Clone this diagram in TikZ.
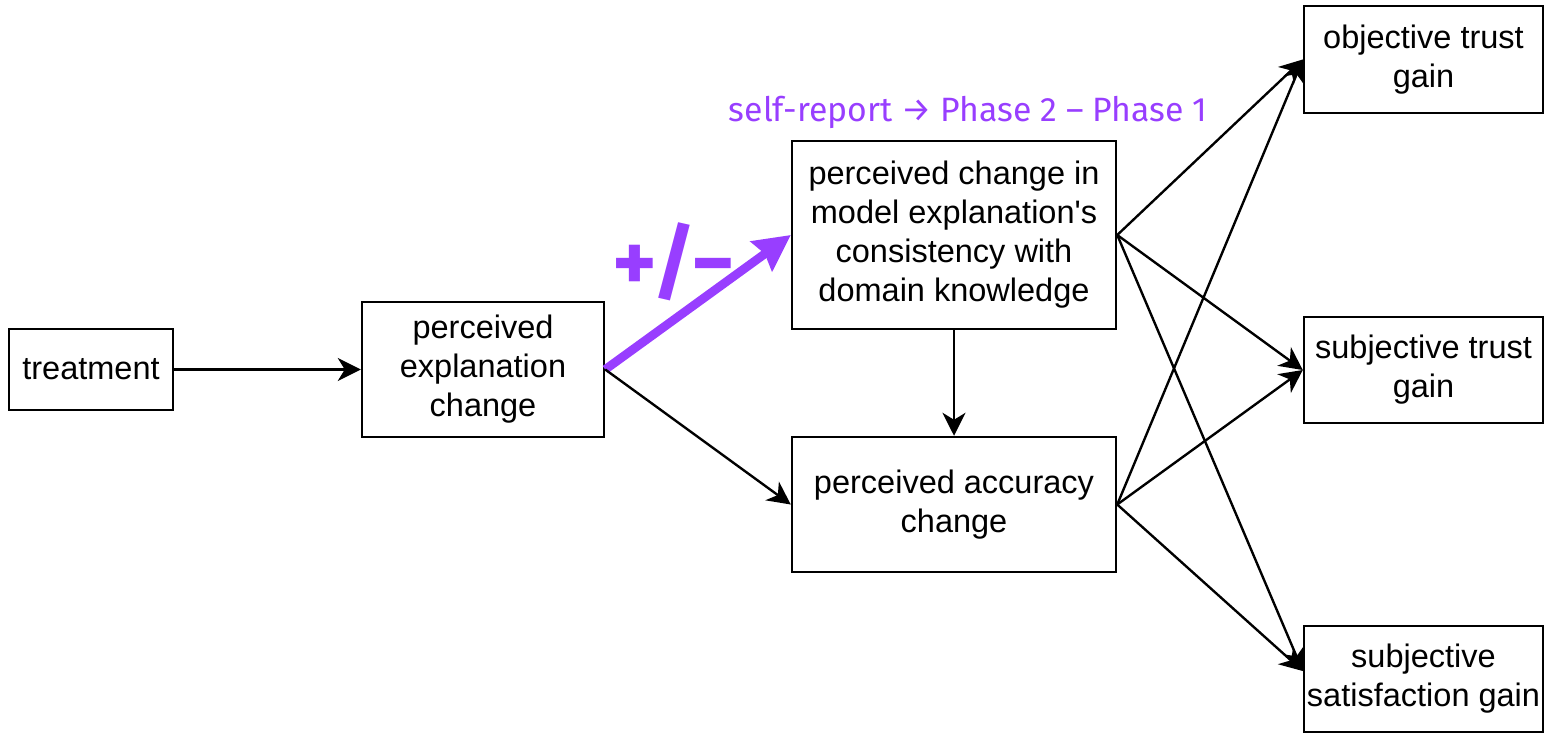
\documentclass[tikz,border=0pt]{standalone}
\usepackage{fontspec}
\setmainfont{Liberation Sans}[Ligatures=TeXOff]
\newfontfamily\notefont{Fira Sans}
\usetikzlibrary{arrows.meta}
\definecolor{accent}{RGB}{152,62,255}
\tikzset{
  box/.style={draw=black, line width=1.4pt, rectangle, inner sep=0pt, align=center,
    font=\fontsize{18.5}{22.2}\selectfont},
  link/.style={draw=black, line width=1.35pt,
    -{Stealth[length=0.46cm, width=0.46cm, inset=0.14cm]}},
  hilite/.style={draw=accent, line width=5pt,
    -{Stealth[length=0.72cm, width=0.72cm, inset=0.08cm]}},
  note/.style={text=accent, inner sep=0pt}
}
\begin{document}
\begin{tikzpicture}
\useasboundingbox (0,0) rectangle (30.9,-14.66);

% causal chain
\node[box, minimum width=3.28cm, minimum height=1.62cm] (treat) at (1.82,-7.39) {treatment};
\node[box, minimum width=4.84cm, minimum height=2.7cm] (expl) at (9.66,-7.39) {perceived\\explanation\\change};
\node[box, minimum width=6.48cm, minimum height=3.76cm] (cons) at (19.08,-4.70)
  {perceived change in\\model explanation's\\consistency with\\domain knowledge};
\node[box, minimum width=6.48cm, minimum height=2.7cm] (acc) at (19.08,-10.09) {perceived accuracy\\change};

% outcomes
\node[box, minimum width=4.78cm, minimum height=2.14cm] (obj) at (28.47,-1.19) {objective trust\\gain};
\node[box, minimum width=4.78cm, minimum height=2.12cm] (sub) at (28.47,-7.40) {subjective trust\\gain};
\node[box, minimum width=4.78cm, minimum height=2.12cm] (sat) at (28.47,-13.58) {subjective\\satisfaction gain};

% annotations
\node[note, font=\notefont\fontsize{19.2}{23}\selectfont] (phase) at (19.36,-2.24)
  {self-report → Phase 2 – Phase 1};
\node[note, font=\notefont\bfseries\fontsize{48}{54}\selectfont] (sign) at (13.48,-5.24) {+/−};

% connectors
\draw[link] (treat.east) -- (expl.west);
\draw[hilite] (expl.east) -- (cons.west);
\draw[link] (expl.east) -- (acc.west);
\draw[link] (cons.south) -- (acc.north);

\draw[link] (cons.east) -- (obj.west);
\draw[link] (cons.east) -- (sub.west);
\draw[link] (cons.east) -- ([yshift=0.16cm]sat.west);
\draw[link] (acc.east) -- (obj.west);
\draw[link] (acc.east) -- (sub.west);
\draw[link] (acc.east) -- ([yshift=0.16cm]sat.west);
\end{tikzpicture}
\end{document}
